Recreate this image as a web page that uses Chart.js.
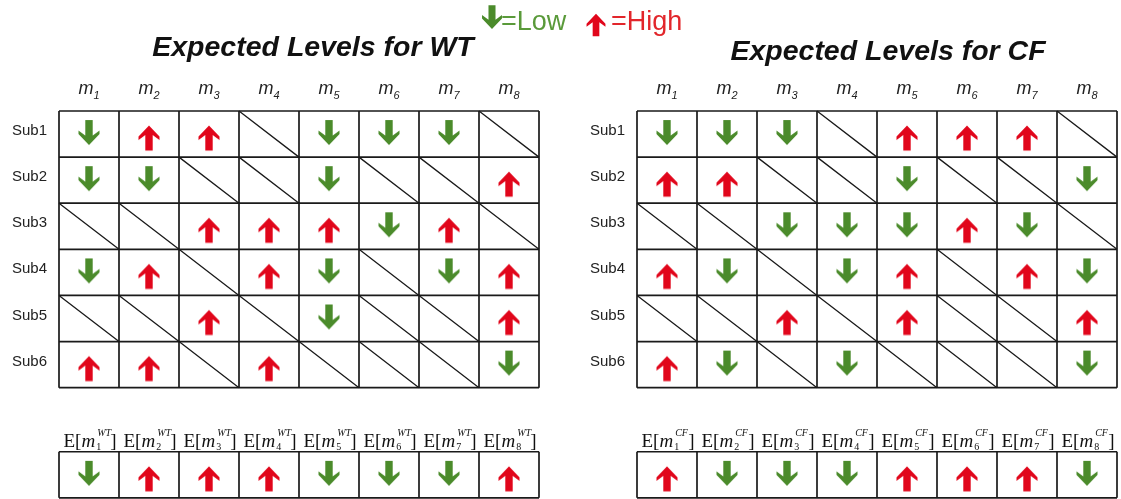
<!DOCTYPE html>
<html>
<head>
<meta charset="utf-8">
<script src="https://cdn.jsdelivr.net/npm/chart.js@4.4.1/dist/chart.umd.min.js"></script>
<style>
html, body { margin: 0; padding: 0; background: #fff; }
body { width: 1121px; height: 499px; position: relative; overflow: hidden; font-family: "Liberation Sans", Arial, sans-serif; color: #111; }
.panel { position: absolute; top: 0; }
.txt { position: absolute; white-space: nowrap; line-height: 1; }
.title { font-size: 28.5px; font-weight: bold; font-style: italic; transform: translateX(-50%); }
.colhead { font-size: 18px; font-style: italic; color: #222; transform: translateX(-50%); }
.colhead sub { font-size: 11px; vertical-align: -5px; line-height: 0; }
.rowlab { font-size: 15px; color: #222; transform: translateX(-100%); }
.elab { font-family: "Liberation Serif", "Times New Roman", serif; font-size: 19px; color: #111; transform: translateX(-50%); }
.ss { display: inline-block; position: relative; width: 15px; height: 0; }
.ss span { position: absolute; left: 1px; line-height: 1; font-style: italic; }
.ss .sp { bottom: 9px; font-size: 10px; left: 2px; }
.ss .sb { top: -5px; font-size: 10px; font-style: normal; }
#legend { position: absolute; left: 480px; top: 0; height: 42px; font-size: 27px; }
#legend canvas, #legend span { position: absolute; }
</style>
</head>
<body>
<div id="legend"></div>
<canvas id="wt" class="panel" width="560" height="540" style="left:0px"></canvas>
<canvas id="cf" class="panel" width="560" height="540" style="left:578px"></canvas>
<script>
// Metabolite indexes (column tick labels) and subject rows
const metabolites = ['1', '2', '3', '4', '5', '6', '7', '8'];
const subjects = ['Sub1', 'Sub2', 'Sub3', 'Sub4', 'Sub5', 'Sub6'];

// L = low (green down), H = high (red up), '-' = no expectation (diagonal)
const wtGrid = [
  ['L', 'H', 'H', '-', 'L', 'L', 'L', '-'],
  ['L', 'L', '-', '-', 'L', '-', '-', 'H'],
  ['-', '-', 'H', 'H', 'H', 'L', 'H', '-'],
  ['L', 'H', '-', 'H', 'L', '-', 'L', 'H'],
  ['-', '-', 'H', '-', 'L', '-', '-', 'H'],
  ['H', 'H', '-', 'H', '-', '-', '-', 'L']
];
const wtExpected = ['L', 'H', 'H', 'H', 'L', 'L', 'L', 'H'];

const cfGrid = [
  ['L', 'L', 'L', '-', 'H', 'H', 'H', '-'],
  ['H', 'H', '-', '-', 'L', '-', '-', 'L'],
  ['-', '-', 'L', 'L', 'L', 'H', 'L', '-'],
  ['H', 'L', '-', 'L', 'H', '-', 'H', 'L'],
  ['-', '-', 'H', '-', 'H', '-', '-', 'H'],
  ['H', 'L', '-', 'L', '-', '-', '-', 'L']
];
const cfExpected = ['H', 'L', 'L', 'L', 'H', 'H', 'H', 'L'];

const groups = ['WT', 'CF'];
const titles = ['Expected Levels for WT', 'Expected Levels for CF'];
const legendLabels = ['=Low', '=High'];

const GREEN = '#4b8b2b';
const RED = '#e1061b';
const EXP_ROW = 7.39; // top of the expected-level row, in row units

// draw a block arrow centred on (cx, cy); dir 1 = down, -1 = up
function drawArrow(ctx, cx, cy, dir, s, color) {
  const pts = [[-3.7, -12.5], [3.7, -12.5], [3.7, 3], [10.5, -2], [10.5, 1.5], [0, 12.5],
               [-10.5, 1.5], [-10.5, -2], [-3.7, 3]];
  ctx.fillStyle = color;
  ctx.beginPath();
  pts.forEach((p, i) => {
    const x = cx + p[0] * s, y = cy + p[1] * s * dir;
    if (i === 0) ctx.moveTo(x, y); else ctx.lineTo(x, y);
  });
  ctx.closePath();
  ctx.fill();
}

function arrowImage(dir, color, offset) {
  const c = document.createElement('canvas');
  c.width = 26; c.height = 40;
  drawArrow(c.getContext('2d'), 13, 20 + offset, dir, 1, color);
  return c;
}
const downImg = arrowImage(1, GREEN, -1.5);
const upImg = arrowImage(-1, RED, 4);

function levelPoints(grid, expected, level) {
  const pts = [];
  grid.forEach((row, r) => row.forEach((v, c) => {
    if (v === level) pts.push({x: c + 0.5, y: r + 0.5});
  }));
  expected.forEach((v, c) => {
    if (v === level) pts.push({x: c + 0.5, y: EXP_ROW + 0.5});
  });
  return pts;
}

// cell borders + diagonals for empty cells
const gridPlugin = {
  id: 'cellGrid',
  beforeDatasetsDraw(chart) {
    const {ctx, scales: {x, y}} = chart;
    const grid = chart.config.options.plugins.cellGrid.grid;
    const px = v => x.getPixelForValue(v);
    const py = v => y.getPixelForValue(v);
    ctx.save();
    ctx.strokeStyle = '#1a1a1a';
    ctx.lineWidth = 1.7;
    ctx.beginPath();
    for (let r = 0; r <= grid.length; r++) {
      ctx.moveTo(px(0), py(r)); ctx.lineTo(px(metabolites.length), py(r));
    }
    for (let c = 0; c <= metabolites.length; c++) {
      ctx.moveTo(px(c), py(0)); ctx.lineTo(px(c), py(grid.length));
    }
    // expected row
    ctx.moveTo(px(0), py(EXP_ROW)); ctx.lineTo(px(metabolites.length), py(EXP_ROW));
    ctx.moveTo(px(0), py(EXP_ROW + 1)); ctx.lineTo(px(metabolites.length), py(EXP_ROW + 1));
    for (let c = 0; c <= metabolites.length; c++) {
      ctx.moveTo(px(c), py(EXP_ROW)); ctx.lineTo(px(c), py(EXP_ROW + 1));
    }
    ctx.stroke();
    ctx.lineWidth = 1.3;
    ctx.beginPath();
    grid.forEach((row, r) => row.forEach((v, c) => {
      if (v === '-') { ctx.moveTo(px(c), py(r)); ctx.lineTo(px(c + 1), py(r + 1)); }
    }));
    ctx.stroke();
    ctx.restore();
  }
};

function makePanel(id, grid, expected) {
  return new Chart(document.getElementById(id), {
    type: 'scatter',
    data: {
      datasets: [
        {label: 'Low', data: levelPoints(grid, expected, 'L'), pointStyle: downImg, pointRadius: 13, pointHoverRadius: 13},
        {label: 'High', data: levelPoints(grid, expected, 'H'), pointStyle: upImg, pointRadius: 13, pointHoverRadius: 13}
      ]
    },
    options: {
      animation: false,
      responsive: false,
      events: [],
      layout: {padding: {left: 59, right: 21, top: 111, bottom: 13.5}},
      plugins: {legend: {display: false}, tooltip: {enabled: false}, cellGrid: {grid: grid}},
      scales: {
        x: {type: 'linear', min: 0, max: 8, display: false},
        y: {type: 'linear', min: 0, max: 9, reverse: true, display: false}
      }
    },
    plugins: [gridPlugin]
  });
}

const charts = [makePanel('wt', wtGrid, wtExpected), makePanel('cf', cfGrid, cfExpected)];
const offsets = [0, 578];

function addText(cls, html, left, top) {
  const d = document.createElement('div');
  d.className = 'txt ' + cls;
  d.innerHTML = html;
  d.style.left = left + 'px';
  d.style.top = top + 'px';
  document.body.appendChild(d);
}

charts.forEach((chart, p) => {
  const ox = offsets[p];
  const {x, y} = chart.scales;
  const mid = ox + (x.getPixelForValue(0) + x.getPixelForValue(8)) / 2;
  addText('title', titles[p], mid + (p === 0 ? 14 : 11), p === 0 ? 32 : 36);
  metabolites.forEach((m, i) => {
    const cx = ox + x.getPixelForValue(i + 0.5);
    addText('colhead', 'm<sub>' + m + '</sub>', cx, 79);
    addText('elab', 'E[<i>m</i><span class="ss"><span class="sp">' + groups[p] +
      '</span><span class="sb">' + m + '</span></span>]', cx + 1, 431);
  });
  subjects.forEach((s, r) => {
    addText('rowlab', s, ox + x.getPixelForValue(0) - 12, y.getPixelForValue(r + 0.5) - 12);
  });
});

// legend: arrow icons + text
const legend = document.getElementById('legend');
[[1, GREEN, 0, 3], [-1, RED, 104, 11]].forEach(([dir, color, lx, ly], i) => {
  const c = document.createElement('canvas');
  c.width = 24; c.height = 28;
  drawArrow(c.getContext('2d'), 12, 14, dir, dir === 1 ? 0.95 : 0.9, color);
  c.style.left = lx + 'px';
  c.style.top = ly + 'px';
  legend.appendChild(c);
  const t = document.createElement('span');
  t.textContent = legendLabels[i];
  t.style.color = color === GREEN ? '#5a9a3a' : '#e2262b';
  t.style.left = (lx + (i === 0 ? 21 : 27)) + 'px';
  t.style.top = '8px';
  t.style.lineHeight = '1';
  legend.appendChild(t);
});
</script>
</body>
</html>
